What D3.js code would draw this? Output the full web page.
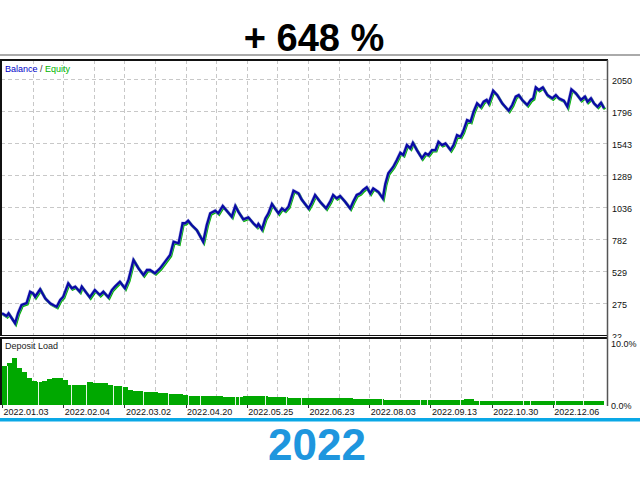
<!DOCTYPE html>
<html><head><meta charset="utf-8">
<script src="https://cdn.jsdelivr.net/npm/d3@7"></script>
<style>body{margin:0;background:#fff}svg{display:block}</style>
</head><body>
<svg id="c" width="640" height="480"></svg>
<script>
const titleText = "+ 648 %";
const yearText = "2022";
const yTickValues = [22, 275, 529, 782, 1036, 1289, 1543, 1796, 2050];
const xTickDeals = [0, 122, 244, 366, 488, 610, 732, 854, 976, 1098];
const xTickLabels = ["2022.01.03","2022.02.04","2022.03.02","2022.04.20","2022.05.25","2022.06.23","2022.08.03","2022.09.13","2022.10.30","2022.12.06"];
const loadTickValues = [0, 10];
const loadTickLabels = ["0.0%", "10.0%"];

const dealNo = [0,9,13,26,32,39,49,56,62,66,76,86,96,102,109,116,122,132,139,146,155,159,169,175,185,195,202,212,219,225,235,245,252,262,272,282,289,295,305,315,325,335,342,352,360,365,371,378,388,401,408,415,425,431,440,448,458,465,471,481,491,501,508,511,518,525,531,538,544,551,558,564,571,581,591,597,611,617,624,634,646,654,660,667,674,684,694,700,707,714,720,727,734,740,750,759,764,770,780,787,794,800,807,814,819,827,837,844,850,857,864,870,877,884,894,900,907,914,919,927,934,940,947,954,960,966,970,979,987,997,1010,1017,1024,1030,1037,1047,1054,1059,1064,1070,1078,1087,1097,1104,1110,1120,1127,1135,1144,1154,1162,1167,1174,1180,1187,1194,1200];
const balance = [202,180,202,123,204,268,283,373,360,333,392,321,281,268,254,307,333,439,400,413,373,413,360,329,386,347,373,329,386,413,452,400,466,624,558,505,545,545,519,558,611,664,769,756,915,915,935,901,862,769,900,994,1015,994,1052,1015,967,1052,1007,946,962,915,888,909,867,954,994,1068,1033,994,1033,1015,1046,1173,1152,1105,1033,1076,1139,1086,1033,1086,1139,1113,1131,1086,1033,1086,1139,1152,1179,1200,1152,1192,1165,1113,1226,1311,1363,1416,1474,1456,1535,1509,1553,1495,1430,1469,1456,1495,1495,1561,1535,1548,1495,1535,1614,1601,1640,1733,1720,1799,1865,1838,1878,1892,1865,1965,1931,1865,1807,1852,1918,1931,1892,1852,1892,1905,1992,1971,1992,1931,1905,1931,1905,1886,1838,1976,1945,1892,1918,1878,1905,1865,1838,1870,1826];

// deposit load (%) per block of 10 deals
const loadSlots = [6.3,6.8,7.6,6.0,5.3,4.3,3.8,3.7,3.9,4.2,
 4.3,4.3,4.0,3.3,3.2,3.2,3.3,3.7,3.5,3.5,
 3.5,3.3,3.1,3.0,2.85,2.4,2.25,2.2,2.15,2.15,
 2.1,2.0,1.95,1.75,1.7,1.7,1.65,1.5,1.5,1.5,
 1.45,1.45,1.45,1.45,1.35,1.35,1.35,1.35,1.5,1.5,
 1.5,1.5,1.5,1.25,1.25,1.25,1.25,1.2,1.2,1.2,
 1.2,1.2,1.2,1.2,1.08,1.08,1.08,1.08,1.08,1.2,
 0.97,0.97,0.97,0.97,0.97,0.97,0.8,0.8,0.8,0.8,
 0.8,0.8,0.8,0.8,0.8,0.8,0.8,0.8,0.8,0.8,
 0.8,0.8,0.9,0.9,0.7,0.7,0.7,0.7,0.7,0.7,
 0.7,0.7,0.7,0.7,0.7,0.7,0.7,0.7,0.7,0.7,
 0.7,0.7,0.7,0.7,0.7,0.7,0.7,0.7,0.7,0.7];
const slotSize = 10;
const loadGaps = [9,72,138,167,221,239,282,331,371,395,464,472,524,567,597,757,833,847,913,951,1039,1052,1102,1159];
const gridStep = 61;

const svg = d3.select("#c");
const F = "'Liberation Sans', Arial, sans-serif";

const L = 1, R = 607.5, mainTop = 60, mainBot = 335.5, loadTop = 338, loadBot = 405;
const x = d3.scaleLinear().domain([0, 1200]).range([2, 604]);
const y = d3.scaleLinear().domain([22, 2050]).range([336, 80]);
const yl = d3.scaleLinear().domain([0, 10]).range([loadBot, 343]);

// title
svg.append("text").attr("x", 314).attr("y", 51).attr("text-anchor", "middle")
  .attr("font-family", F).attr("font-weight", "bold").attr("font-size", 38).attr("fill", "#000").text(titleText);
svg.append("line").attr("x1", 0).attr("x2", 640).attr("y1", 55).attr("y2", 55).attr("stroke", "#aaaaaa").attr("stroke-width", 2);

// grids
const gridDeals = d3.range(gridStep, 1200, gridStep);
const grid = svg.append("g").attr("stroke", "#c8c8c8").attr("stroke-dasharray", "4,3").attr("shape-rendering", "crispEdges");
grid.selectAll(".hv").data(gridDeals).join("line")
  .attr("x1", d => Math.round(x(d)) + 0.5).attr("x2", d => Math.round(x(d)) + 0.5)
  .attr("y1", mainTop).attr("y2", mainBot);
grid.selectAll(".lv").data(gridDeals).join("line").attr("class","lv")
  .attr("x1", d => Math.round(x(d)) + 0.5).attr("x2", d => Math.round(x(d)) + 0.5)
  .attr("y1", loadTop).attr("y2", loadBot);
grid.selectAll(".hh").data(yTickValues.slice(1)).join("line").attr("class","hh")
  .attr("x1", L).attr("x2", R)
  .attr("y1", d => Math.round(y(d)) - 0.5).attr("y2", d => Math.round(y(d)) - 0.5);

// deposit load bars
const bw = x(slotSize) - x(0);
svg.append("g").attr("shape-rendering", "crispEdges").selectAll("rect").data(loadSlots).join("rect")
  .attr("x", (d, i) => x(i * slotSize)).attr("width", bw + 0.3)
  .attr("y", d => yl(d)).attr("height", d => loadBot - yl(d)).attr("fill", "#00a800");
svg.append("g").attr("shape-rendering", "crispEdges").selectAll("rect").data(loadGaps).join("rect")
  .attr("x", d => Math.round(x(d))).attr("width", 1)
  .attr("y", d => yl(loadSlots[Math.floor(d / slotSize)])).attr("height", d => loadBot - yl(loadSlots[Math.floor(d / slotSize)]))
  .attr("fill", "#e6f6e6");

// balance / equity
const pts = dealNo.map((d, i) => [d, balance[i]]);
const line = d3.line().x(d => x(d[0])).y(d => y(d[1]));
svg.append("path").attr("d", line(pts)).attr("fill", "none").attr("stroke", "#00b400").attr("stroke-width", 2.6)
  .attr("transform", "translate(0.9,1.2)").attr("stroke-linejoin", "miter");
svg.append("path").attr("d", line(pts)).attr("fill", "none").attr("stroke", "#9a9ae0").attr("stroke-width", 3.4).attr("opacity", 0.6);
svg.append("path").attr("d", line(pts)).attr("fill", "none").attr("stroke", "#0a0aa5").attr("stroke-width", 2.3);

// frames
const fr = svg.append("g").attr("fill", "none").attr("stroke", "#111").attr("shape-rendering", "crispEdges");
fr.append("rect").attr("x", L).attr("y", mainTop).attr("width", R - L).attr("height", mainBot - mainTop).attr("stroke-width", 1.2);
fr.append("path").attr("d", `M${L},${loadBot} V${loadTop} H${R} V${loadBot}`).attr("stroke-width", 1.2);
svg.append("line").attr("x1", R).attr("x2", R).attr("y1", mainTop).attr("y2", loadBot + 1).attr("stroke", "#555").attr("stroke-width", 1.5);

// legends
const lg = svg.append("text").attr("x", 5).attr("y", 72).attr("font-family", F).attr("font-size", 9);
lg.append("tspan").attr("fill", "#0000c8").text("Balance");
lg.append("tspan").attr("fill", "#333").text(" / ");
lg.append("tspan").attr("fill", "#00b400").text("Equity");
svg.append("text").attr("x", 5).attr("y", 349).attr("font-family", F).attr("font-size", 9).attr("fill", "#222").text("Deposit Load");

// right axis labels
svg.append("clipPath").attr("id", "cl").append("rect").attr("x", 608).attr("y", 60).attr("width", 40).attr("height", 278);
svg.append("g").attr("clip-path", "url(#cl)").selectAll("text").data(yTickValues).join("text")
  .attr("x", 612).attr("y", d => y(d) + 3.5).attr("font-family", F).attr("font-size", 9).attr("fill", "#111").text(d => d);
svg.append("g").selectAll("text").data(loadTickValues).join("text")
  .attr("x", 611).attr("y", d => yl(d) + 4).attr("font-family", F).attr("font-size", 9).attr("fill", "#111")
  .text((d, i) => loadTickLabels[i]);

// x axis labels
svg.append("g").attr("stroke", "#333").attr("shape-rendering", "crispEdges").selectAll("line").data(xTickDeals).join("line")
  .attr("x1", d => Math.round(x(d)) + 0.5).attr("x2", d => Math.round(x(d)) + 0.5).attr("y1", loadBot).attr("y2", loadBot + 3);
svg.append("g").selectAll("text").data(xTickDeals).join("text")
  .attr("x", d => x(d) + 1.5).attr("y", 415).attr("font-family", F).attr("font-size", 9).attr("fill", "#111")
  .text((d, i) => xTickLabels[i]);

// bottom band and year
svg.append("rect").attr("x", 0).attr("y", 418).attr("width", 640).attr("height", 3.5).attr("fill", "#0aa8e6");
svg.append("text").attr("x", 317).attr("y", 460).attr("text-anchor", "middle")
  .attr("font-family", F).attr("font-weight", "bold").attr("font-size", 44).attr("fill", "#1e96de").text(yearText);
</script>
</body></html>
